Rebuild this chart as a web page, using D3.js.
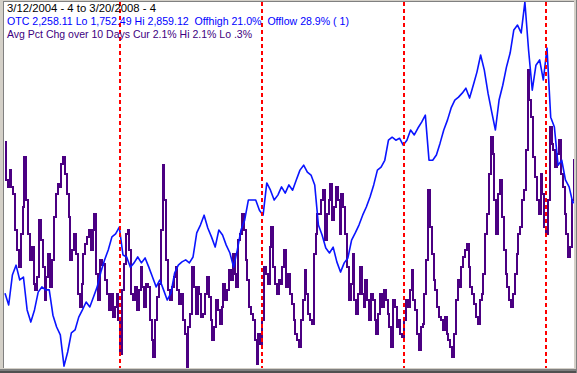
<!DOCTYPE html>
<html><head><meta charset="utf-8">
<script src="https://cdn.jsdelivr.net/npm/d3@7"></script>
<style>html,body{margin:0;padding:0;background:#d4d0c8;}svg{display:block;}</style>
</head><body>
<script>
// ---- data ----
const startDate = new Date(2004, 2, 12);
const endDate = new Date(2008, 2, 20);
const yearMarks = ["2005-01-01", "2006-01-01", "2007-01-01", "2008-01-01"];
const titleLines = [
  "3/12/2004 - 4 to 3/20/2008 - 4",
  "OTC 2,258.11 Lo 1,752.49 Hi 2,859.12  Offhigh 21.0%  Offlow 28.9% ( 1)",
  "Avg Pct Chg over 10 Days Cur 2.1% Hi 2.1% Lo .3%"
];
// OTC (Nasdaq composite) – evenly spaced samples over the period
const otcValues = [
  1974,1938,2029,2059,2014,2023,1923,1886,1923,1977,
  1993,1984,1984,1907,1871,1847,1752,1795,1853,1862,
  1901,1923,1947,1932,1962,1993,2038,2075,2105,2145,
  2154,2175,2090,2084,2053,2066,2084,2066,2081,2053,
  2023,1993,2014,1984,1953,1974,2035,2059,2069,2075,
  2066,2084,2157,2181,2211,2172,2145,2114,2166,2151,
  2120,2096,2053,2105,2166,2196,2257,2257,2257,2226,
  2211,2309,2287,2257,2272,2297,2278,2303,2287,2318,
  2348,2363,2342,2333,2303,2181,2151,2111,2096,2114,
  2069,2038,2066,2081,2135,2157,2181,2211,2236,2266,
  2303,2348,2357,2378,2439,2448,2439,2445,2424,2439,
  2470,2455,2476,2494,2515,2378,2378,2394,2430,2470,
  2500,2537,2561,2570,2582,2597,2567,2606,2646,2698,
  2652,2582,2525,2470,2561,2606,2661,2704,2774,2789,
  2765,2859,2713,2591,2667,2683,2622,2719,2509,2479,
  2363,2378,2318,2297,2248,2258
];
// Avg Pct Chg over 10 Days (%) – evenly spaced samples over the period
const pctValues = [
  1.65,1.42,1.38,1.48,1.38,1.34,1.12,1.00,0.90,1.10,
  1.26,1.56,1.30,1.10,0.94,1.02,0.80,0.76,0.84,1.18,
  1.06,0.90,0.70,0.84,0.98,0.78,0.94,1.20,1.34,1.40,
  1.38,1.52,1.56,1.46,1.34,1.20,0.94,1.00,1.10,0.98,
  0.74,0.66,0.80,0.98,1.04,1.08,1.12,1.00,1.12,1.22,
  0.86,0.70,0.94,0.91,0.92,0.82,0.74,0.64,0.74,0.60,
  0.66,0.74,0.58,0.38,0.76,0.92,1.10,1.12,1.00,0.74,
  0.70,0.78,0.64,0.76,0.90,0.78,0.66,0.80,0.78,0.58,
  0.46,0.36,0.58,0.72,0.80,1.12,1.51,1.30,0.94,0.76,
  0.70,0.78,0.84,0.90,0.76,0.68,0.74,0.58,0.50,0.30,
  0.54,0.62,0.90,0.78,0.62,0.78,0.74,0.60,0.62,0.74,
  0.84,0.72,0.58,0.46,0.54,0.70,0.64,0.56,0.66,0.80,
  0.70,0.76,0.88,0.82,0.98,0.86,0.78,1.06,1.10,1.22,
  1.12,0.94,0.82,0.66,0.62,0.58,0.46,0.32,0.50,0.44,
  0.58,0.90,0.86,0.80,1.02,1.14,0.90,0.80,0.74,0.82,
  0.80,0.90,1.00,0.78,0.86,0.74,0.68,0.58,0.50,0.46,
  0.42,0.58,0.70,0.88,0.74,0.62,0.58,0.56,0.98,1.10,
  1.22,1.22,1.30,1.36,1.06,1.22,1.30,1.40,1.18,1.26,
  1.38,1.30,1.10,1.34,1.26,1.10,0.90,0.70,0.80,0.98,
  0.70,0.62,0.74,0.90,0.74,0.66,0.82,0.70,0.58,0.74,
  0.70,0.58,0.50,0.62,0.74,0.66,0.76,0.70,0.62,0.54,
  0.42,0.70,0.66,0.54,0.58,0.50,0.48,0.58,0.70,0.66,
  0.76,0.88,0.70,0.64,0.50,0.40,0.54,0.56,0.74,0.94,
  1.36,1.14,0.98,0.82,0.76,0.66,0.60,0.58,0.52,0.60,
  0.50,0.46,0.42,0.36,0.50,0.70,0.82,0.78,0.90,0.96,
  1.00,1.04,0.90,0.78,0.74,0.68,0.60,0.56,0.70,0.74,
  0.86,1.10,1.22,1.46,1.68,1.58,1.30,1.10,1.34,1.42,
  1.20,1.00,0.86,0.78,0.70,0.66,0.74,0.86,0.98,1.10,
  1.14,1.30,1.36,1.60,2.08,1.90,1.80,1.56,1.44,1.30,
  1.22,1.46,1.34,1.14,1.10,1.30,1.74,1.64,1.60,1.50,
  1.58,1.66,1.46,1.38,1.22,1.10,0.96,1.02,1.30,1.54,
  2.10
];

// ---- layout ----
const W = 577, H = 373;
const plot = {x: 4, y: 2, w: 570, h: 366};

const svg = d3.select("body").append("svg").attr("width", W).attr("height", H);
// window frame
svg.append("rect").attr("width", W).attr("height", H).attr("fill", "#d4d0c8");
svg.append("rect").attr("x", 3).attr("y", 1).attr("width", plot.w + 1).attr("height", 1).attr("fill", "#808080");
svg.append("rect").attr("x", 3).attr("y", 1).attr("width", 1).attr("height", plot.h + 1).attr("fill", "#808080");
svg.append("rect").attr("x", 0).attr("y", 369).attr("width", W).attr("height", 4).attr("fill", "#808080");
svg.append("rect").attr("x", 0).attr("y", 371).attr("width", W).attr("height", 2).attr("fill", "#505050");
svg.append("rect").attr("x", 576).attr("y", 0).attr("width", 1).attr("height", H).attr("fill", "#808080");
svg.append("rect").attr("x", plot.x).attr("y", plot.y).attr("width", plot.w).attr("height", plot.h).attr("fill", "#ffffff");

svg.append("clipPath").attr("id", "clip").append("rect")
  .attr("x", plot.x).attr("y", plot.y).attr("width", plot.w).attr("height", plot.h);

const x = d3.scaleTime().domain([startDate, endDate]).range([5, 576.5]);
const yOtc = d3.scaleLinear().domain([1752.49, 2859.12]).range([366, 2]);
const yPct = d3.scaleLinear().domain([0.3, 2.49]).range([367, 2]);

const dateAt = (i, n) => new Date(+startDate + i * (endDate - startDate) / (n - 1));

const g = svg.append("g").attr("clip-path", "url(#clip)");

const pctLine = d3.line()
  .x((d, i) => x(dateAt(i, pctValues.length)))
  .y(d => yPct(d))
  .curve(d3.curveStep);
g.append("path").datum(pctValues).attr("d", pctLine)
  .attr("fill", "none").attr("stroke", "#4b0082").attr("stroke-width", 2)
  .attr("shape-rendering", "crispEdges");

const otcLine = d3.line()
  .x((d, i) => x(dateAt(i, otcValues.length)))
  .y(d => yOtc(d));
g.append("path").datum(otcValues).attr("d", otcLine)
  .attr("fill", "none").attr("stroke", "#0a14ff").attr("stroke-width", 1.6)
  .attr("stroke-linejoin", "round");

g.selectAll("line.year").data(yearMarks).join("line")
  .attr("class", "year")
  .attr("x1", d => Math.round(x(new Date(d + "T00:00:00"))))
  .attr("x2", d => Math.round(x(new Date(d + "T00:00:00"))))
  .attr("y1", plot.y).attr("y2", plot.y + plot.h)
  .attr("stroke", "#ff0000").attr("stroke-width", 2)
  .attr("stroke-dasharray", "4,3");

// header text
const textSpec = [
  {y: 11.5, color: "#000000", len: 149},
  {y: 24.5, color: "#0000ff", len: 342},
  {y: 37.5, color: "#400080", len: 245}
];
svg.selectAll("text.hdr").data(titleLines).join("text")
  .attr("class", "hdr")
  .attr("x", 7)
  .attr("y", (d, i) => textSpec[i].y)
  .attr("fill", (d, i) => textSpec[i].color)
  .attr("font-family", "'Liberation Sans', Arial, sans-serif")
  .attr("font-size", 11)
  .attr("textLength", (d, i) => textSpec[i].len)
  .attr("lengthAdjust", "spacingAndGlyphs")
  .style("white-space", "pre")
  .text(d => d);
</script>
</body></html>
